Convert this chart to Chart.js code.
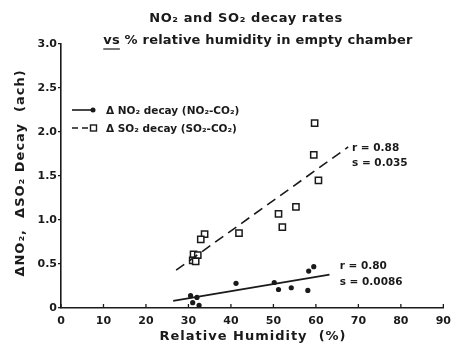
<!DOCTYPE html>
<html>
<head>
<meta charset="utf-8">
<script src="https://cdn.jsdelivr.net/npm/chart.js@4"></script>
<style>
  html, body { margin: 0; padding: 0; background: #fff; }
  #wrap { width: 458px; height: 350px; }
</style>
</head>
<body>
<div id="wrap"><canvas id="chart" width="458" height="350"></canvas></div>
<script>
// Data
var no2Humidity = [30.5, 32, 31, 32.5, 41.2, 50.2, 51.2, 54.2, 58.1, 58.3, 59.5];
var no2Decay    = [0.14, 0.12, 0.06, 0.03, 0.28, 0.29, 0.21, 0.23, 0.20, 0.42, 0.47];

var so2Humidity = [59.7, 59.5, 60.6, 55.3, 51.2, 52.1, 41.9, 33.8, 32.9, 31.2, 32.2, 31.0, 31.7];
var so2Decay    = [2.10, 1.74, 1.45, 1.15, 1.07, 0.92, 0.85, 0.84, 0.78, 0.61, 0.60, 0.54, 0.53];

// Regression lines (end points)
var no2FitX = [26.4, 63.2];
var no2FitY = [0.08, 0.38];
var so2FitX = [27.1, 67.6];
var so2FitY = [0.43, 1.83];

var xTicks = [0, 10, 20, 30, 40, 50, 60, 70, 80, 90];
var yTicks = [0, 0.5, 1.0, 1.5, 2.0, 2.5, 3.0];
var yTickLabels = ['0', '0.5', '1.0', '1.5', '2.0', '2.5', '3.0'];

// Fit statistics, anchored in data units next to the lines
var so2Stats = ['r = 0.88', 's = 0.035'];
var so2StatsPos = [[68.5, 1.81], [68.5, 1.64]];
var no2Stats = ['r = 0.80', 's = 0.0086'];
var no2StatsPos = [[65.6, 0.47], [65.6, 0.29]];

var ink = '#1a1a1a';
var fontFamily = '"DejaVu Sans", sans-serif';

function toPoints(xs, ys) {
	return xs.map(function(x, i) { return { x: x, y: ys[i] }; });
}

// Titles, legend, annotations and inward x ticks
var decorations = {
	id: 'decorations',
	afterDraw: function(chart) {
		var ctx = chart.ctx;
		var xs = chart.scales.x, ys = chart.scales.y;
		ctx.save();
		ctx.fillStyle = ink;
		ctx.strokeStyle = ink;

		// inward tick marks on the x axis
		ctx.lineWidth = 1.3;
		xTicks.forEach(function(v) {
			var px = xs.getPixelForValue(v);
			ctx.beginPath();
			ctx.moveTo(px, ys.bottom);
			ctx.lineTo(px, ys.bottom - 4);
			ctx.stroke();
		});

		// title
		ctx.textBaseline = 'middle';
		ctx.textAlign = 'center';
		ctx.font = 'bold 13px ' + fontFamily;
		ctx.letterSpacing = '0.6px';
		ctx.fillText('NO₂ and SO₂ decay rates', 246, 19);
		ctx.letterSpacing = '0.2px';
		var line2a = 'vs';
		var line2b = ' % relative humidity in empty chamber';
		var wA = ctx.measureText(line2a).width;
		var wB = ctx.measureText(line2b).width;
		var startX = 258 - (wA + wB) / 2;
		ctx.textAlign = 'left';
		ctx.fillText(line2a, startX, 41);
		ctx.fillText(line2b, startX + wA, 41);
		ctx.lineWidth = 1.2;
		ctx.beginPath();
		ctx.moveTo(startX, 49);
		ctx.lineTo(startX + wA, 49);
		ctx.stroke();

		// axis titles
		ctx.font = 'bold 13px ' + fontFamily;
		ctx.letterSpacing = '1px';
		ctx.textAlign = 'center';
		ctx.fillText('Relative Humidity  (%)', 253, 337);
		ctx.save();
		ctx.translate(21, 173);
		ctx.rotate(-Math.PI / 2);
		ctx.fillText('ΔNO₂,  ΔSO₂ Decay  (ach)', 0, 0);
		ctx.restore();
		ctx.letterSpacing = '0px';

		// legend
		ctx.font = 'bold 10.5px ' + fontFamily;
		ctx.textAlign = 'left';
		ctx.lineWidth = 1.6;
		ctx.beginPath();
		ctx.moveTo(72, 110);
		ctx.lineTo(92, 110);
		ctx.stroke();
		ctx.beginPath();
		ctx.arc(93, 110, 2.5, 0, Math.PI * 2);
		ctx.fill();
		ctx.fillText('Δ NO₂ decay (NO₂-CO₂)', 106, 111);

		ctx.setLineDash([6, 4]);
		ctx.beginPath();
		ctx.moveTo(72, 128);
		ctx.lineTo(90, 128);
		ctx.stroke();
		ctx.setLineDash([]);
		ctx.lineWidth = 1.4;
		ctx.fillStyle = '#fff';
		ctx.fillRect(90.5, 125, 6, 6);
		ctx.strokeRect(90.5, 125, 6, 6);
		ctx.fillStyle = ink;
		ctx.fillText('Δ SO₂ decay (SO₂-CO₂)', 106, 129);

		// fit statistics
		ctx.font = 'bold 10.5px ' + fontFamily;
		[[so2Stats, so2StatsPos], [no2Stats, no2StatsPos]].forEach(function(group) {
			group[0].forEach(function(txt, i) {
				var p = group[1][i];
				ctx.fillText(txt, xs.getPixelForValue(p[0]), ys.getPixelForValue(p[1]));
			});
		});
		ctx.restore();
	}
};

new Chart(document.getElementById('chart').getContext('2d'), {
	type: 'scatter',
	data: {
		datasets: [{
			label: 'NO2 fit',
			data: toPoints(no2FitX, no2FitY),
			showLine: true,
			borderColor: ink,
			borderWidth: 1.8,
			pointRadius: 0
		}, {
			label: 'SO2 fit',
			data: toPoints(so2FitX, so2FitY),
			showLine: true,
			borderColor: ink,
			borderWidth: 1.6,
			borderDash: [10, 6],
			pointRadius: 0
		}, {
			label: 'Δ NO2 decay',
			data: toPoints(no2Humidity, no2Decay),
			pointStyle: 'circle',
			pointRadius: 2.6,
			backgroundColor: ink,
			borderColor: ink,
			borderWidth: 0
		}, {
			label: 'Δ SO2 decay',
			data: toPoints(so2Humidity, so2Decay),
			pointStyle: 'rect',
			pointRadius: 4.4,
			backgroundColor: '#fff',
			borderColor: ink,
			borderWidth: 1.5
		}]
	},
	options: {
		responsive: false,
		animation: false,
		layout: { padding: { left: 0, right: 8, top: 44, bottom: 0 } },
		plugins: {
			legend: { display: false },
			title: { display: false },
			tooltip: { enabled: false }
		},
		scales: {
			x: {
				type: 'linear',
				min: 0,
				max: 90,
				afterFit: function(scale) { scale.height = 42; },
				afterBuildTicks: function(scale) {
					scale.ticks = xTicks.map(function(v) { return { value: v }; });
				},
				border: { color: ink, width: 1.6 },
				grid: { drawOnChartArea: false, drawTicks: false },
				ticks: {
					padding: 7,
					color: ink,
					font: { family: fontFamily, size: 11, weight: 'bold' }
				}
			},
			y: {
				type: 'linear',
				min: 0,
				max: 3,
				afterFit: function(scale) { scale.width = 61; },
				afterBuildTicks: function(scale) {
					scale.ticks = yTicks.map(function(v) { return { value: v }; });
				},
				border: { color: ink, width: 1.6 },
				grid: { drawOnChartArea: false, drawTicks: true, tickLength: 3, color: ink, lineWidth: 1.2 },
				ticks: {
					padding: 1,
					color: ink,
					font: { family: fontFamily, size: 11, weight: 'bold' },
					callback: function(value) {
						var i = yTicks.indexOf(value);
						return i >= 0 ? yTickLabels[i] : '';
					}
				}
			}
		}
	},
	plugins: [decorations]
});
</script>
</body>
</html>
